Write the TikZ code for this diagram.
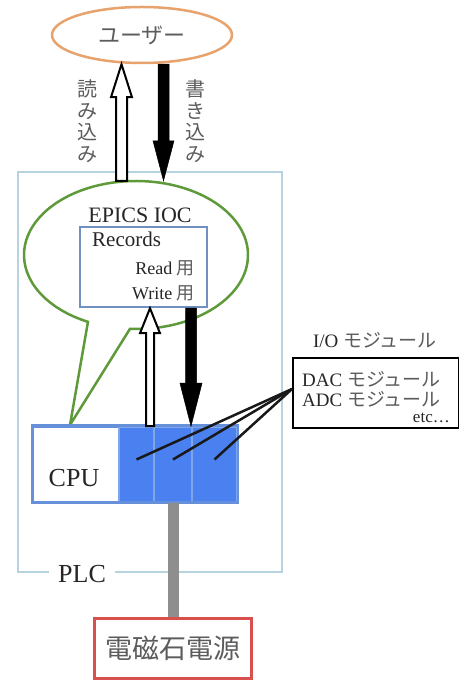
\documentclass[tikz,border=0pt]{standalone}
\usepackage{fontspec}
\setmainfont{Liberation Serif}
\newfontfamily\jp{Noto Sans CJK JP}
\usetikzlibrary{calc,shapes.geometric}
\definecolor{userorange}{HTML}{E8A26C}
\definecolor{iocgreen}{HTML}{5E9A3A}
\definecolor{plcblue}{HTML}{B7D3DF}
\definecolor{recblue}{HTML}{7090C0}
\definecolor{modblue}{HTML}{4A80F0}
\definecolor{modedge}{HTML}{6690DA}
\definecolor{modsep}{HTML}{80A6EA}
\definecolor{psured}{HTML}{D8504E}
\definecolor{cablegrey}{HTML}{8E8E8E}
\definecolor{jpgrey}{HTML}{5C5C5C}
\newcommand\jtxt[1]{{\jp\color{jpgrey}#1}}
\tikzset{every node/.style={inner sep=0pt,font=\fontsize{21}{25}\selectfont,text=black!85},
  plcframe/.style={draw=plcblue,line width=2.5},
  bubble/.style={draw=iocgreen,line width=2.5,line join=miter},
  recbox/.style={draw=recblue,fill=white,line width=2.5},
  cpubox/.style={draw=modedge,fill=white,line width=2.5},
  module/.style={draw=modsep,fill=modblue,line width=1.5,minimum height=75},
  iobox/.style={draw=black,line width=2},
  psubox/.style={draw=psured,line width=3},
  cable/.style={draw=cablegrey,line width=11},
  link/.style={draw=black!90,line width=2.5},
  jtall/.style={font=\jp\fontsize{20}{21.5}\selectfont,text=jpgrey,align=center},
  openarrow/.style={draw=black,fill=white,line width=2,line join=miter},
  fullarrow/.style={draw=black,fill=black,line width=0.5,line join=miter},
  % fat vertical arrow: shaft half-width, head half-width, head length
  fat/.style n args={3}{to path={
    ($(\tikztotarget)!#3!(\tikztostart)$) coordinate (fathead)
    ($(\tikztostart)!#1!90:(\tikztotarget)$)
    -- ($(fathead)!#1!-90:(\tikztostart)$)
    -- ($(fathead)!#2!-90:(\tikztostart)$)
    -- (\tikztotarget)
    -- ($(fathead)!#2!90:(\tikztostart)$)
    -- ($(fathead)!#1!90:(\tikztostart)$)
    -- ($(\tikztostart)!#1!-90:(\tikztotarget)$)
    -- cycle}}}
\begin{document}
\begin{tikzpicture}[x=1pt,y=1pt]
  \useasboundingbox (0,0) rectangle (458,680);
  % user
  \node[ellipse,draw=userorange,line width=2.5,minimum width=180,minimum height=56,
    font=\jp\fontsize{22}{26}\selectfont,text=jpgrey] (user) at (142,645) {ユーザー};
  \node[jtall] (rdlabel) at (87,559) {読\\み\\込\\み};
  \node[jtall] (wrlabel) at (195,559) {書\\き\\込\\み};
  % PLC frame
  \draw[plcframe] (18,108) rectangle (282,508);
  \node[fill=white,inner xsep=9,inner ysep=2,font=\fontsize{26}{30}\selectfont] (plc) at (82,106) {PLC};
  % EPICS IOC bubble
  \node[ellipse,minimum width=224,minimum height=148] (ioc) at (136,425) {};
  \coordinate (tail) at (70,255);
  \draw[bubble] (ioc.center) ++(266.9:112 and 74)
    arc[start angle=266.9,end angle=604.6,x radius=112,y radius=74] -- (tail) -- cycle;
  \node[font=\fontsize{22}{26}\selectfont] (iocname) at (140,465) {EPICS IOC};
  \node[recbox,minimum width=127,minimum height=80] (rec) at (143.5,413) {};
  \node[anchor=west] (rectitle) at (92,441) {Records};
  \node[anchor=east,font=\fontsize{18}{21}\selectfont] (recread) at (195,412) {Read \jtxt{用}};
  \node[anchor=east,font=\fontsize{18}{21}\selectfont] (recwrite) at (195,387) {Write \jtxt{用}};
  % CPU and I/O modules
  \node[cpubox,minimum width=86,minimum height=75] (cpu) at (76,215.5) {};
  \node[font=\fontsize{26}{30}\selectfont] (cputext) at (74,202) {CPU};
  \foreach \i/\x/\w in {1/136.5/35,2/173/38,3/214.5/45}
    \node[module,minimum width=\w] (m\i) at (\x,215.5) {};
  \draw[draw=modedge,line width=2.5] (cpu.north west) rectangle (m3.south east);
  % arrows
  \coordinate (rdtop) at (121.5,0);
  \coordinate (wrtop) at (163.5,0);
  \coordinate (rdlow) at (150,0);
  \coordinate (wrlow) at (191,0);
  \draw[openarrow,fat={5.5pt}{10.5pt}{33pt}] (ioc.north -| rdtop) to (user.south -| rdtop);
  \draw[fullarrow,fat={5.5pt}{10.5pt}{40pt}] (user.south -| wrtop) to (ioc.north -| wrtop);
  \draw[openarrow,fat={4pt}{10pt}{25pt}] (m1.north -| rdlow) to (rec.south -| rdlow);
  \draw[fullarrow,fat={5.5pt}{11pt}{43pt}] (rec.south -| wrlow) to (m2.north -| wrlow);
  % I/O box
  \node[font=\fontsize{19}{22}\selectfont] (iolabel) at (375,340) {I/O \jtxt{モジュール}};
  \node[iobox,minimum width=166,minimum height=70] (io) at (376,287) {};
  \node[anchor=west,font=\fontsize{19}{22}\selectfont] (dac) at (302,301) {DAC \jtxt{モジュール}};
  \node[anchor=west,font=\fontsize{19}{22}\selectfont] (adc) at (302,281) {ADC \jtxt{モジュール}};
  \node[anchor=east,font=\fontsize{17}{20}\selectfont] (etc) at (450,262) {etc…};
  \foreach \i in {1,2,3}
    \draw[link] ([yshift=5]m\i.center) -- ([yshift=4]io.west);
  % power supply
  \node[psubox,minimum width=157,minimum height=60,font=\jp\fontsize{27}{30}\selectfont,
    text=jpgrey] (psu) at (173,31.5) {電磁石電源};
  \draw[cable] (m2.south) -- (m2.south |- psu.north);
\end{tikzpicture}
\end{document}
